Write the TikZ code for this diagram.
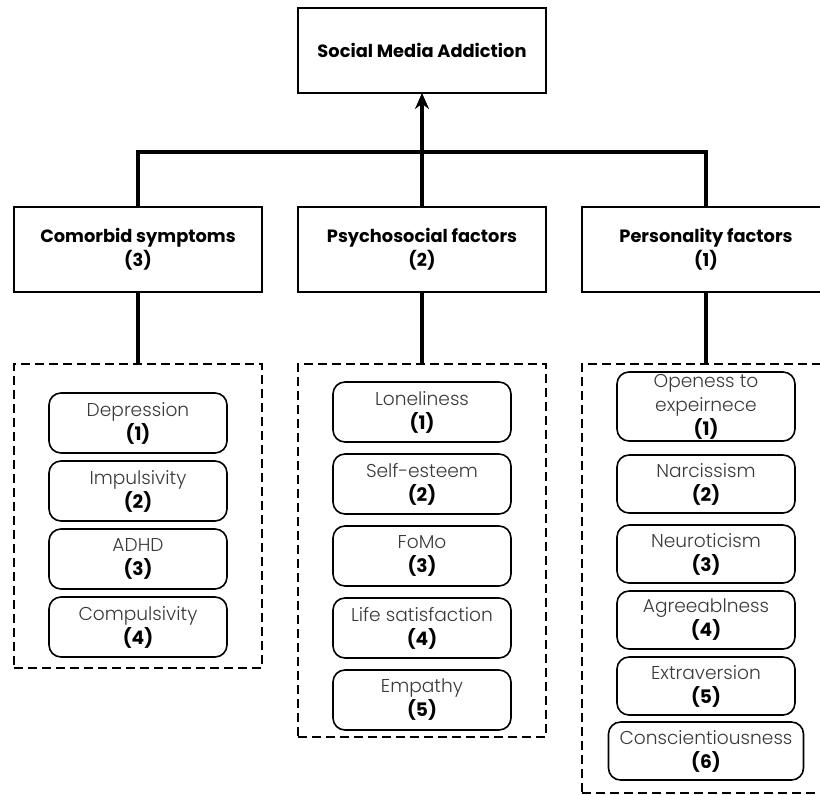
\documentclass[tikz,border=0pt]{standalone}
\usepackage{fontspec}
\setmainfont{Poppins}
\newfontfamily\lightfont{Poppins Light}
\usepackage{tikz}
\usetikzlibrary{arrows.meta, positioning}
\definecolor{itemgray}{HTML}{3A3A3A}
\newcommand{\itemno}[1]{\\{\normalfont\bfseries\color{black}(#1)}}

\begin{document}
\begin{tikzpicture}[x=0.5pt,y=-0.5pt,>={Stealth[length=8pt,width=7pt]},
  main node/.style={rectangle,draw,line width=1pt,outer sep=0pt,minimum width=124pt,minimum height=42.5pt,
    align=center,font=\bfseries\fontsize{8.9}{12}\selectfont},
  group node/.style={rectangle,draw,line width=0.9pt,outer sep=0pt,dash pattern=on 4.5pt off 2.5pt,minimum width=124pt},
  item node/.style={rectangle,rounded corners=6pt,draw,line width=0.8pt,outer sep=0pt,minimum width=89pt,
    minimum height=30pt,inner sep=1pt,align=center,
    font=\lightfont\fontsize{9.3}{12}\selectfont\color{itemgray}},
  link/.style={line width=1.6pt}]
  \useasboundingbox (0,0) rectangle (820,795);
  \clip (0,0) rectangle (820,795);

  % top and the three groups of factors
  \node[main node] (0) at (422,50.5) {Social Media Addiction};
  \node[main node] (2) [below=57pt of 0] {Psychosocial factors\\(2)};
  \node[main node] (1) [left=18pt of 2] {Comorbid symptoms\\(3)};
  \node[main node] (3) [right=18pt of 2] {Personality factors\\(1)};
  \coordinate (hub) at (422,152);

  \draw[link] (1.north) |- (hub) -| (3.north);
  \draw[link,->] (2.north) -- (0.south);

  % dashed frames
  \node[group node, minimum height=152pt] (1g) [below=36pt of 1] {};
  \node[group node, minimum height=186.5pt] (2g) [below=36pt of 2] {};
  \node[group node, minimum height=214.5pt] (3g) [below=36pt of 3] {};
  \draw[link] (1.south) -- (1g.north);
  \draw[link] (2.south) -- (2g.north);
  \draw[link] (3.south) -- (3g.north);

  % comorbid symptoms
  \node[item node, below=14.5pt of 1g.north] (1a) {Depression\itemno{1}};
  \node[item node, below=4pt of 1a] (1b) {Impulsivity\itemno{2}};
  \node[item node, below=4pt of 1b] (1c) {ADHD\itemno{3}};
  \node[item node, below=4pt of 1c] (1d) {Compulsivity\itemno{4}};

  % psychosocial factors
  \node[item node, below=9pt of 2g.north] (2a) {Loneliness\itemno{1}};
  \node[item node, below=6pt of 2a] (2b) {Self-esteem\itemno{2}};
  \node[item node, below=6pt of 2b] (2c) {FoMo\itemno{3}};
  \node[item node, below=6pt of 2c] (2d) {Life satisfaction\itemno{4}};
  \node[item node, below=6pt of 2d] (2e) {Empathy\itemno{5}};

  % personality factors
  \node[item node, below=4pt of 3g.north] (3a) {Openess to\\expeirnece\itemno{1}};
  \node[item node, below=7pt of 3a, minimum height=29pt] (3b) {Narcissism\itemno{2}};
  \node[item node, below=6pt of 3b, minimum height=29pt] (3c) {Neuroticism\itemno{3}};
  \node[item node, below=4pt of 3c, minimum height=29pt] (3d) {Agreeablness\itemno{4}};
  \node[item node, below=4pt of 3d, minimum height=29pt] (3e) {Extraversion\itemno{5}};
  \node[item node, below=3.5pt of 3e, minimum height=29pt, minimum width=97.5pt] (3f) {Conscientiousness\itemno{6}};
\end{tikzpicture}
\end{document}
